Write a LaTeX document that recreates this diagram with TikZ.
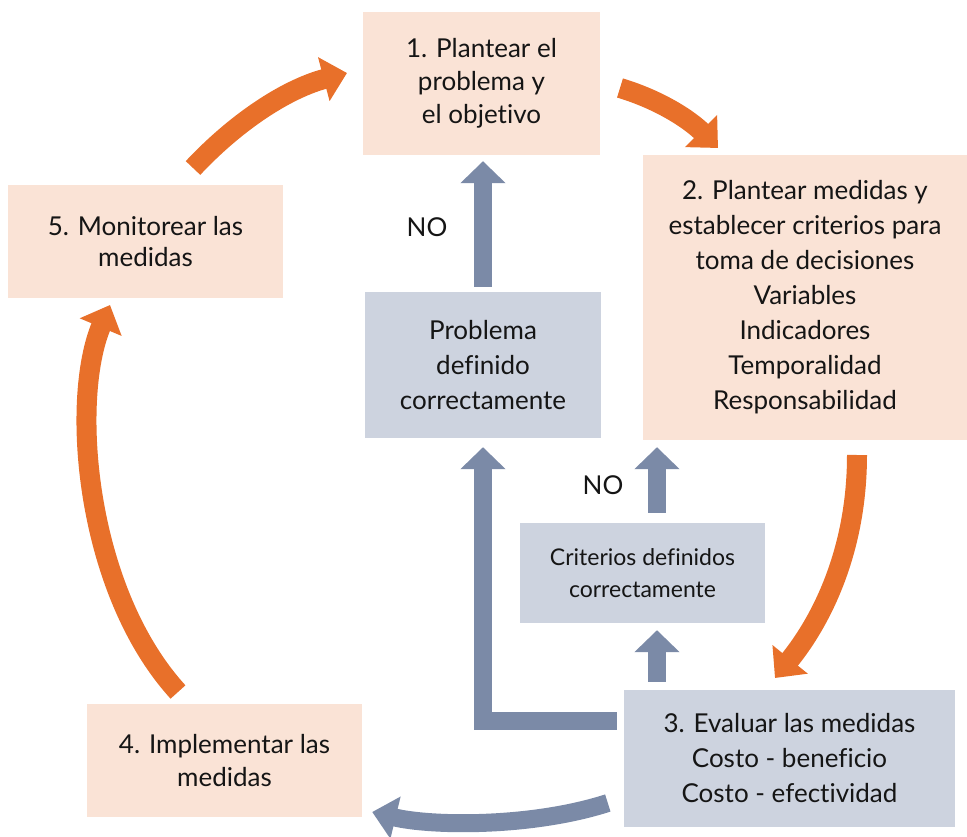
\documentclass[tikz,border=0pt]{standalone}
\usepackage{fontspec}
\setmainfont{Lato}[Ligatures={NoCommon,NoContextual}]
\usetikzlibrary{arrows.meta}
\definecolor{peach}{HTML}{FAE3D6}
\definecolor{grayblue}{HTML}{CDD3DF}
\definecolor{arrowblue}{HTML}{7B8AA7}
\definecolor{orangeA}{HTML}{E8702A}
\definecolor{txt}{HTML}{151515}
\begin{document}
\begin{tikzpicture}[x=1pt,y=-1pt,
  box/.style={rectangle, inner sep=0pt, align=center, text=txt, font=\fontsize{26}{33}\selectfont},
  pbox/.style={box, fill=peach},
  gbox/.style={box, fill=grayblue},
  barrow/.style={draw=arrowblue, line width=18pt, -{Triangle[width=44pt,length=22pt]}},
  oarrow/.style={draw=orangeA, line width=20pt, -{Triangle[width=44pt,length=24pt]}},
  nolabel/.style={text=txt, font=\fontsize{26}{30}\selectfont, inner sep=0pt}
]
\useasboundingbox (0,0) rectangle (967,837);

% boxes
\node[pbox, minimum width=237pt, minimum height=143pt] (b1) at (481.5,83.5) {1. Plantear el\\problema y\\el objetivo};
\node[pbox, minimum width=324pt, minimum height=285pt, font=\fontsize{26}{35}\selectfont] (b2) at (805,297.5)
  {2. Plantear medidas y\\establecer criterios para\\toma de decisiones\\Variables\\Indicadores\\Temporalidad\\Responsabilidad};
\node[pbox, minimum width=275pt, minimum height=113pt, font=\fontsize{26}{31}\selectfont] (b5) at (145.5,241.5) {5. Monitorear las\\medidas};
\node[gbox, minimum width=236pt, minimum height=146pt, font=\fontsize{26}{35}\selectfont] (prob) at (483,365) {Problema\\definido\\correctamente};
\node[gbox, minimum width=245pt, minimum height=100pt, font=\fontsize{23}{32}\selectfont] (crit) at (642.5,573) {Criterios definidos\\correctamente};
\node[gbox, minimum width=331pt, minimum height=137pt, font=\fontsize{26}{35}\selectfont] (b3) at (789.5,758.5) {3. Evaluar las medidas\\Costo - beneficio\\Costo - efectividad};
\node[pbox, minimum width=275pt, minimum height=113pt] (b4) at (224.5,760.5) {4. Implementar las\\medidas};

% labels
\node[nolabel] (no1) at (427,227) {NO};
\node[nolabel] (no2) at (603,485) {NO};

% blue straight arrows
\draw[barrow, shorten <=5pt, shorten >=6pt] (prob.north) -- (prob.north |- b1.south);
\coordinate (cb) at ([xshift=14.5pt]crit.north);
\draw[barrow, shorten <=10pt, shorten >=7pt] (cb) -- (cb |- b2.south);
\coordinate (cc) at (b3.north -| cb);
\draw[barrow, shorten <=8pt, shorten >=7pt] (cc) -- (cc |- crit.south);
% L-shaped arrow
\coordinate (ls) at ([xshift=-7pt,yshift=37.5pt]b3.west);
\draw[barrow, line join=miter, shorten >=9pt] (ls) -- (ls -| prob.south) -- (prob.south);
% bottom curved blue arrow
\coordinate (bs) at ([xshift=-16pt,yshift=-44.5pt]b3.west);
\coordinate (be) at ([xshift=10pt,yshift=-51.5pt]b4.east);
\draw[draw=arrowblue, line width=18pt, -{Triangle[width=42pt,length=24pt]}] (bs) .. controls (530,828) and (430,826) .. (be);

% orange arrows
\coordinate (o1s) at (193,168);
\coordinate (o1e) at (347,73);
\draw[oarrow] (o1s) .. controls (240,118) and (290,88) .. (o1e);
\coordinate (o2s) at (620,88);
\coordinate (o2e) at (718,148);
\draw[oarrow] (o2s) .. controls (660,100) and (690,120) .. (o2e);
\coordinate (o3s) at (857,455);
\coordinate (o3e) at (775,678);
\draw[oarrow] (o3s) .. controls (857,550) and (822,620) .. (o3e);
\coordinate (o4s) at (178,692);
\coordinate (o4e) at (110,305);
\draw[oarrow] (o4s) .. controls (85,590) and (70,400) .. (o4e);
\end{tikzpicture}
\end{document}
